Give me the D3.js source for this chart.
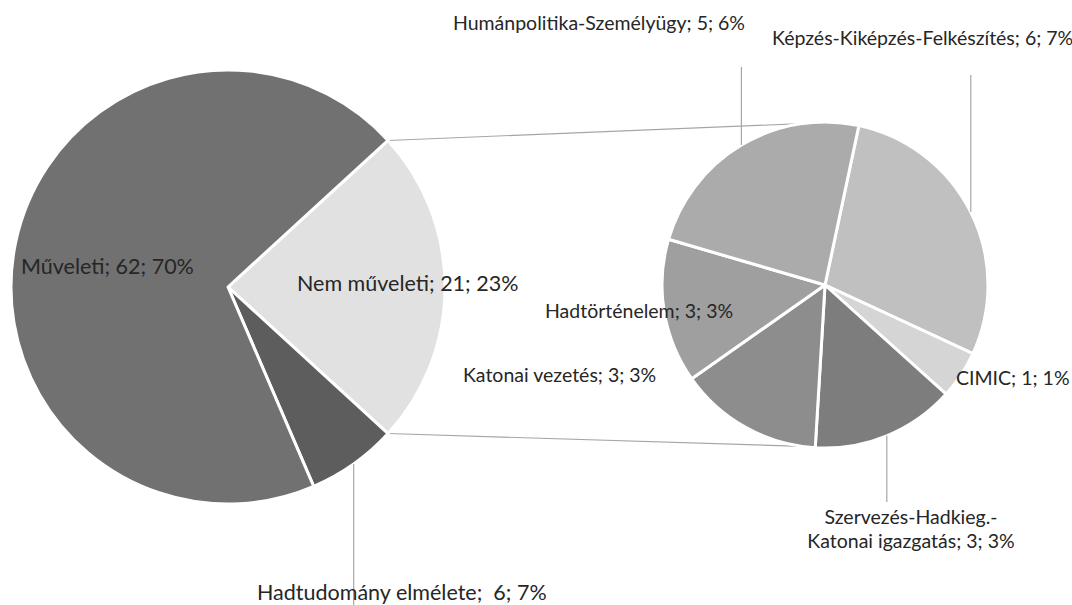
<!DOCTYPE html>
<html>
<head>
<meta charset="utf-8">
<script src="https://cdn.jsdelivr.net/npm/d3@7/dist/d3.min.js"></script>
<style>
  html, body { margin: 0; padding: 0; background: #fff; }
  svg { display: block; }
  text { font-family: Lato, "Liberation Sans", sans-serif; fill: #262626; white-space: pre; }
</style>
</head>
<body>
<svg id="chart" width="1072" height="605"></svg>
<script>
// ---- Data ----
const mainCategories = ["Nem műveleti", "Hadtudomány elmélete", "Műveleti"];
const mainValues = [21, 6, 62];
const mainPercents = ["23%", "7%", "70%"];
const mainColors = ["#e1e1e1", "#5d5d5d", "#717171"];

const subCategories = ["Képzés-Kiképzés-Felkészítés", "CIMIC", "Szervezés-Hadkieg.-Katonai igazgatás", "Katonai vezetés", "Hadtörténelem", "Humánpolitika-Személyügy"];
const subValues = [6, 1, 3, 3, 3, 5];
const subPercents = ["7%", "1%", "3%", "3%", "3%", "6%"];
const subColors = ["#c0c0c0", "#d5d5d5", "#7d7d7d", "#8d8d8d", "#9f9f9f", "#ababab"];

// ---- Layout ----
const svg = d3.select("#chart");
const deg = Math.PI / 180;
const main = { cx: 228, cy: 287, r: 217 };
const sub = { cx: 825, cy: 285, r: 163 };

const total = d3.sum(mainValues);
const otherSpan = mainValues[0] / total * 2 * Math.PI;
const mainStart = Math.PI / 2 - otherSpan / 2;

const mainPie = d3.pie().sort(null).value(d => d)
  .startAngle(mainStart).endAngle(mainStart + 2 * Math.PI);
const mainArcs = mainPie(mainValues);
const arcMain = d3.arc().innerRadius(0).outerRadius(main.r);

const subStart = 12 * deg;
const subPie = d3.pie().sort(null).value(d => d)
  .startAngle(subStart).endAngle(subStart + 2 * Math.PI);
const subArcs = subPie(subValues);
const arcSub = d3.arc().innerRadius(0).outerRadius(sub.r);

const pt = (c, r, a) => [c.cx + r * Math.sin(a), c.cy - r * Math.cos(a)];

// connector lines
const gLines = svg.append("g").attr("stroke", "#a6a6a6").attr("stroke-width", 1.2).attr("fill", "none");
const o = mainArcs[0];
const mTop = pt(main, main.r, o.startAngle), mBot = pt(main, main.r, o.endAngle);
const sTop = pt(sub, sub.r, -8 * deg), sBot = pt(sub, sub.r, 188 * deg);
gLines.append("line").attr("x1", mTop[0]).attr("y1", mTop[1]).attr("x2", sTop[0]).attr("y2", sTop[1]);
gLines.append("line").attr("x1", mBot[0]).attr("y1", mBot[1]).attr("x2", sBot[0]).attr("y2", sBot[1]);

// main pie
svg.append("g").attr("transform", `translate(${main.cx},${main.cy})`)
  .selectAll("path").data(mainArcs).join("path")
  .attr("d", arcMain).attr("fill", (d, i) => mainColors[i])
  .attr("stroke", "#fff").attr("stroke-width", 3).attr("stroke-linejoin", "round");

// sub pie
svg.append("g").attr("transform", `translate(${sub.cx},${sub.cy})`)
  .selectAll("path").data(subArcs).join("path")
  .attr("d", arcSub).attr("fill", (d, i) => subColors[i])
  .attr("stroke", "#fff").attr("stroke-width", 3).attr("stroke-linejoin", "round");

// leader lines
const mid = d => (d.startAngle + d.endAngle) / 2;
const gLead = svg.append("g").attr("stroke", "#a6a6a6").attr("stroke-width", 1.2);
function leader(c, arcD, yEnd) {
  const p = pt(c, c.r, mid(arcD));
  gLead.append("line").attr("x1", p[0]).attr("y1", p[1]).attr("x2", p[0]).attr("y2", yEnd);
}
leader(main, mainArcs[1], 605);
leader(sub, subArcs[5], 67);
leader(sub, subArcs[0], 75);
leader(sub, subArcs[2], 502);

// labels
const gText = svg.append("g");
function label(x, y, lines, size, anchor) {
  const t = gText.append("text").attr("x", x).attr("y", y)
    .attr("font-size", size).attr("text-anchor", anchor || "start");
  lines.forEach((s, i) => t.append("tspan").attr("x", x).attr("dy", i === 0 ? 0 : 24).text(s));
}
const lbl = (name, v, p) => `${name}; ${v}; ${p}`;
const mainFs = 21.5, subFs = 19.5;
label(21, 274, [lbl(mainCategories[2], mainValues[2], mainPercents[2])], mainFs);
label(297, 291, [lbl(mainCategories[0], mainValues[0], mainPercents[0])], mainFs);
label(257, 600, [`${mainCategories[1]};  ${mainValues[1]}; ${mainPercents[1]}`], mainFs);

label(453, 30, [lbl(subCategories[5], subValues[5], subPercents[5])], subFs);
label(772, 45, [lbl(subCategories[0], subValues[0], subPercents[0])], subFs);
label(545, 318, [lbl(subCategories[4], subValues[4], subPercents[4])], subFs);
label(463, 382, [lbl(subCategories[3], subValues[3], subPercents[3])], subFs);
label(956, 385, [lbl(subCategories[1], subValues[1], subPercents[1])], subFs);
label(911, 524, ["Szervezés-Hadkieg.-", `Katonai igazgatás; ${subValues[2]}; ${subPercents[2]}`], subFs, "middle");
</script>
</body>
</html>
